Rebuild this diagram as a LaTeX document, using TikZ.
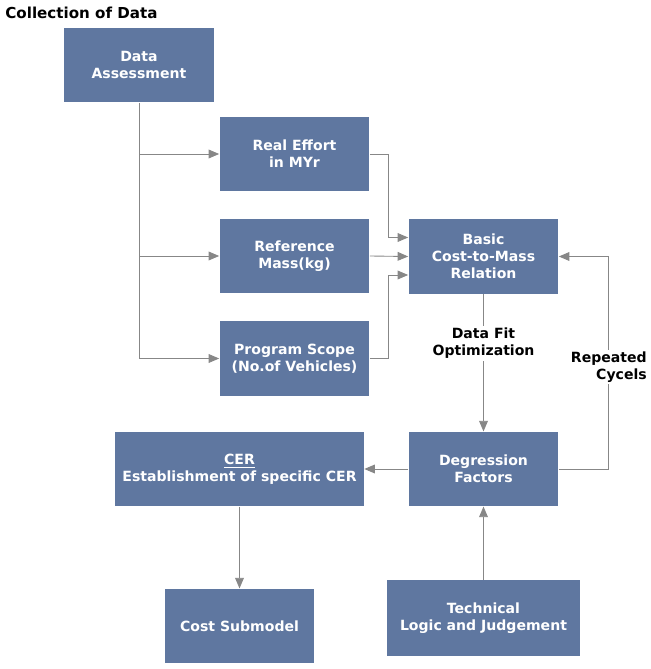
\documentclass[tikz,border=0pt]{standalone}
\usepackage{fontspec}
\setmainfont{DejaVu Sans}
\usetikzlibrary{positioning, arrows.meta}
\definecolor{boxblue}{RGB}{95,119,160}
\definecolor{linegray}{RGB}{135,135,135}
\tikzset{
x=0.02cm, y=-0.02cm, % pixel grid of the reference
block/.style={draw=none, fill=boxblue, text=white, font=\bfseries\fontsize{8}{9.7}\selectfont,
  align=center, minimum width=3cm, minimum height=1.49cm, inner sep=2pt}, % blue boxes
line/.style={draw=linegray, line width=0.5pt}, % plain connector
link/.style={line, -{Triangle[length=6pt, width=5pt, fill=linegray]}}, % arrows
tag/.style={fill=white, font=\bfseries\fontsize{8}{9.7}\selectfont, inner sep=1pt}, % labels on lines
}
\begin{document}
\begin{tikzpicture}
\useasboundingbox (0,0) rectangle (650,669);

\node[anchor=west, inner sep=0pt, font=\bfseries\fontsize{8.6}{10}\selectfont] (title) at (5,13) {Collection of Data};

\node[block] (assess) at (139,65) {Data\\Assessment};
\node[block] (effort) at (294.5,154) {Real Effort\\in MYr};
\node[block] (mass) at (294.5,256) {Reference\\Mass(kg)};
\node[block] (scope) at (294.5,358.5) {Program Scope\\(No.of Vehicles)};
\node[block] (basic) at (483.5,256.5) {Basic\\Cost-to-Mass\\Relation};
\node[block] (degr) at (483.5,469) {Degression\\Factors};
\node[block, minimum width=4.98cm] (cer) at (239.5,469) {\underline{CER}\\Establishment of specific CER};
\node[block] (submodel) at (239.5,626) {Cost Submodel};
\node[block, minimum width=3.86cm, minimum height=1.52cm] (logic) at (483.5,618) {Technical\\Logic and Judgement};

% collection branches
\draw[link] (assess.south) |- (scope.west);
\draw[link] (assess.south |- effort.west) -- (effort.west);
\draw[link] (assess.south |- mass.west) -- (mass.west);

% into the basic relation
\draw[link] (effort.east) -- ++(19,0) |- ([yshift=0.38cm]basic.west);
\draw[link] (mass.east) -- (basic.west);
\draw[link] (scope.east) -- ++(19,0) |- ([yshift=-0.37cm]basic.west);

\draw[link] (basic.south) -- node[tag, align=center, pos=0.36] {Data Fit\\Optimization} (degr.north);
\draw[link] (degr.east) -- ++(50,0) |- node[tag, align=right, pos=0.24] {Repeated\\Cycels} (basic.east);
\draw[link] (degr.west) -- (cer.east);
\draw[link] (cer.south) -- (submodel.north);
\draw[link] (logic.north) -- (degr.south);
\end{tikzpicture}
\end{document}
